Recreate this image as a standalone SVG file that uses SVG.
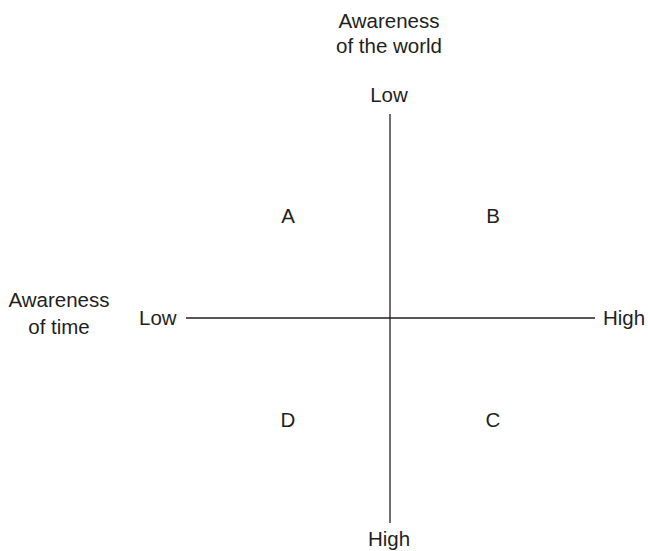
<svg xmlns="http://www.w3.org/2000/svg" width="648" height="551" viewBox="0 0 648 551">
<style>
text{font-family:"Liberation Sans",Arial,sans-serif;font-size:20.5px;fill:#231f20}
.m{text-anchor:middle}
.ax{stroke:#231f20;stroke-width:1.3;fill:none}
</style>
<rect width="648" height="551" fill="#fff"/>
<g id="connectors">
<line class="ax" x1="390" y1="114" x2="390" y2="523"/>
<line class="ax" x1="186" y1="318" x2="595" y2="318"/>
</g>
<g id="title-world"><text class="m" x="389" y="28">Awareness</text><text class="m" x="389" y="53">of the world</text></g>
<g id="title-time"><text class="m" x="59" y="307">Awareness</text><text class="m" x="59" y="334">of time</text></g>
<g id="world-low"><text class="m" x="389" y="102">Low</text></g>
<g id="world-high"><text class="m" x="389" y="546">High</text></g>
<g id="time-low"><text x="139" y="325">Low</text></g>
<g id="time-high"><text x="603" y="325">High</text></g>
<g id="A"><text class="m" x="288" y="223">A</text></g>
<g id="B"><text class="m" x="493" y="223">B</text></g>
<g id="D"><text class="m" x="288" y="427">D</text></g>
<g id="C"><text class="m" x="493" y="427">C</text></g>
</svg>
